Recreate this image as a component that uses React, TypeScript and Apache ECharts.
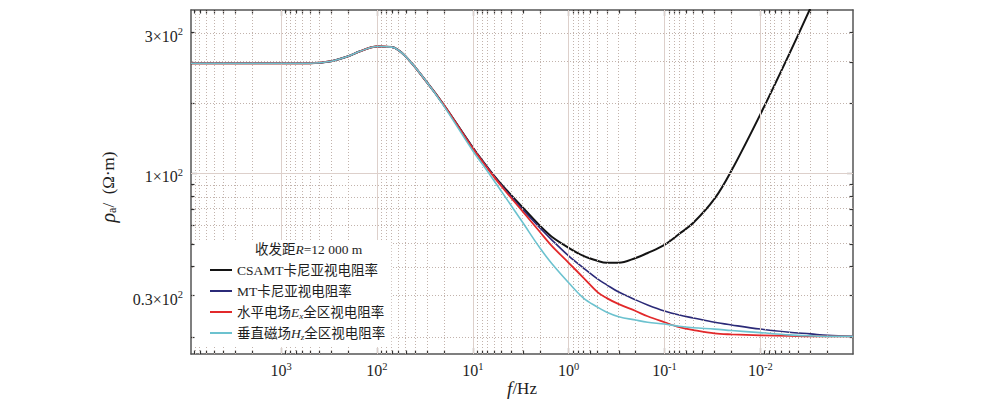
import React, { useEffect, useRef } from 'react';
import * as echarts from 'echarts';

// ---- data (frequency in Hz, apparent resistivity in Ω·m) ----
const FREQ_HZ = [8700, 5000, 2000, 1000, 500, 300, 200, 150, 100, 70, 50, 30, 20, 10, 7, 5, 3, 2, 1.5, 1, 0.7, 0.5, 0.4, 0.3, 0.2, 0.15, 0.1, 0.07, 0.05, 0.03, 0.02, 0.01, 0.005, 0.003, 0.002, 0.00108];

const RHO_CSAMT = [296, 296, 296, 296, 296, 302, 317, 333, 349, 347, 316, 245, 196, 129, 106, 89.6, 71.4, 59.8, 53.6, 48.1, 44.4, 42.3, 41.5, 41.5, 43.5, 45.7, 49.5, 55.2, 61.5, 78.0, 102.9, 179, 324, 510, null, null];
const RHO_MT = [296, 296, 296, 296, 296, 302, 317, 333, 349, 347, 316, 245, 196, 129, 106, 88.8, 69.9, 58.6, 52.0, 44.4, 39.4, 35.4, 33.4, 31.1, 28.8, 27.4, 25.8, 24.8, 24.1, 23.1, 22.5, 21.6, 20.95, 20.6, 20.3, 20.1];
const RHO_EX = [296, 296, 296, 296, 296, 302, 317, 333, 349, 347, 316, 245, 196, 128, 105, 87.9, 68.6, 56.3, 49.0, 41.5, 35.8, 31.1, 29.3, 27.6, 25.8, 24.5, 23.1, 22.0, 21.4, 20.7, 20.5, 20.3, 20.2, 20.1, 20.1, 20.1];
const RHO_HZ = [296, 296, 296, 296, 296, 302, 317, 333, 349, 347, 316, 245, 194, 125, 102, 83.6, 61.5, 48.1, 41.2, 34.1, 29.3, 26.8, 25.5, 24.4, 23.6, 23.1, 22.7, 22.2, 21.9, 21.6, 21.3, 20.85, 20.4, 20.2, 20.1, 20.1];

const SERIES_NAMES = ['CSAMT卡尼亚视电阻率', 'MT卡尼亚视电阻率', '水平电场Ex全区视电阻率', '垂直磁场Hz全区视电阻率'];
const LEGEND_RICH_TEXT = [
  '{n|CSAMT卡尼亚视电阻率}',
  '{n|MT卡尼亚视电阻率}',
  '{n|水平电场}{i|E}{sub|x}{n|全区视电阻率}',
  '{n|垂直磁场}{i|H}{sub|z}{n|全区视电阻率}',
];
const SERIES_COLORS = ['#141414', '#2b2a78', '#e2292b', '#6cc2cf'];
const SERIES_WIDTHS = [2, 1.6, 1.8, 1.6];

const X_MAJOR_EXP = [3, 2, 1, 0, -1, -2];
const Y_LABEL_VALUES = [400, 100, 30];
const Y_LABEL_TEXTS = ['{b|3×10}{s|2}', '{b|1×10}{s|2}', '{b|0.3×10}{s|2}'];
const Y_MINOR_VALUES = [20, 30, 40, 50, 60, 70, 80, 90, 200, 300, 400];
const Y_MAJOR_VALUES = [100];

const F_MIN = 0.00108;
const F_MAX = 8700;
const RHO_MIN = 16.9;
const RHO_MAX = 500;

const SERIF = '"Liberation Serif", "Times New Roman", "Noto Sans CJK SC", serif';
const TXT = '#1e1e1e';

const lg = (v: number) => Math.log10(v);

const richAxis = {
  b: { fontFamily: SERIF, fontSize: 16, color: TXT, lineHeight: 18, verticalAlign: 'bottom' },
  s: { fontFamily: SERIF, fontSize: 10.5, color: TXT, lineHeight: 9, verticalAlign: 'top' },
};
const richLegend = {
  n: { fontFamily: SERIF, fontSize: 13.5, color: TXT, lineHeight: 16, fontWeight: 'normal' },
  i: { fontFamily: SERIF, fontSize: 13.5, color: TXT, lineHeight: 16, fontStyle: 'italic', fontWeight: 'normal' },
  sub: { fontFamily: SERIF, fontSize: 9, color: TXT, lineHeight: 10, verticalAlign: 'bottom', fontStyle: 'italic', fontWeight: 'normal' },
};
const richName = {
  n: { fontFamily: SERIF, fontSize: 17, color: TXT, lineHeight: 20 },
  i: { fontFamily: SERIF, fontSize: 19, color: TXT, lineHeight: 20, fontStyle: 'italic' },
  r: { fontFamily: SERIF, fontSize: 20, color: TXT, lineHeight: 20, fontStyle: 'italic' },
  subn: { fontFamily: SERIF, fontSize: 12, color: TXT, lineHeight: 12, verticalAlign: 'bottom' },
};

function buildOption() {
  const rhoSets = [RHO_CSAMT, RHO_MT, RHO_EX, RHO_HZ];

  const xMin = lg(F_MIN);
  const xMax = lg(F_MAX);
  const yMin = lg(RHO_MIN);
  const yMax = lg(RHO_MAX);

  const xMajorTicks: number[] = X_MAJOR_EXP.slice();
  const xMinorTicks: number[] = [];
  for (let k = -4; k <= 4; k++) {
    for (let m = 2; m <= 9; m++) {
      const v = m * Math.pow(10, k);
      if (v > F_MIN && v < F_MAX) xMinorTicks.push(lg(v));
    }
  }
  const yMinorTicks = Y_MINOR_VALUES.map(lg);
  const yMajorTicks = Y_MAJOR_VALUES.map(lg);

  const majorGrid = { color: '#ddd0cb', type: 'solid', width: 1 };
  const minorGrid = { color: '#c2b3ac', type: [1, 2], width: 1 };

  const gridLines: any[] = [];
  xMinorTicks.forEach((v) => gridLines.push({ xAxis: v, lineStyle: minorGrid }));
  xMajorTicks.forEach((v) => gridLines.push({ xAxis: v, lineStyle: majorGrid }));
  yMinorTicks.forEach((v) => gridLines.push({ yAxis: v, lineStyle: minorGrid }));
  yMajorTicks.forEach((v) => gridLines.push({ yAxis: v, lineStyle: majorGrid }));

  const axisLineStyle = { color: '#555', width: 1.5 };
  const tickStyle = { color: '#333', width: 1.2 };

  const xCommon = {
    type: 'value',
    gridIndex: 0,
    min: xMin,
    max: xMax,
    inverse: true,
    splitLine: { show: false },
  };
  const yCommon = {
    type: 'value',
    gridIndex: 0,
    min: yMin,
    max: yMax,
    splitLine: { show: false },
  };

  const series: any[] = [
    {
      name: '__grid',
      type: 'line',
      data: [],
      z: 1,
      silent: true,
      markLine: {
        silent: true,
        symbol: ['none', 'none'],
        label: { show: false },
        emphasis: { disabled: true },
        data: gridLines,
      },
    },
  ];
  SERIES_NAMES.forEach((name, idx) => {
    const vals = rhoSets[idx];
    const data: number[][] = [];
    FREQ_HZ.forEach((f, j) => {
      const r = vals[j];
      if (r !== null && r !== undefined) data.push([lg(f), lg(r as number)]);
    });
    series.push({
      name,
      type: 'line',
      data,
      z: 3 + idx,
      smooth: 0.35,
      showSymbol: false,
      symbol: 'none',
      clip: true,
      lineStyle: { color: SERIES_COLORS[idx], width: SERIES_WIDTHS[idx] },
      itemStyle: { color: SERIES_COLORS[idx] },
    });
  });

  return {
    animation: false,
    backgroundColor: '#ffffff',
    grid: { left: 191, right: 147, top: 10, bottom: 45, containLabel: false, outerBoundsMode: 'none' },
    title: {
      text: '{n|收发距}{i|R}{n|=12 000 m}',
      left: 255,
      top: 241,
      padding: 0,
      textStyle: { rich: richLegend, fontWeight: 'normal', fontSize: 13.5, fontFamily: SERIF },
      z: 10,
    },
    legend: {
      data: SERIES_NAMES.map((name) => ({ name, icon: 'rect' })),
      orient: 'vertical',
      left: 195,
      top: 240,
      padding: [22, 6, 6, 15],
      itemWidth: 22,
      itemHeight: 2,
      itemGap: 5,
      backgroundColor: '#ffffff',
      selectedMode: false,
      formatter: (name: string) => LEGEND_RICH_TEXT[SERIES_NAMES.indexOf(name)],
      textStyle: { rich: richLegend, lineHeight: 16, fontSize: 13.5, fontFamily: SERIF },
      z: 8,
    },
    xAxis: [
      {
        ...xCommon,
        position: 'bottom',
        axisLine: { show: true, onZero: false, lineStyle: axisLineStyle },
        axisTick: { show: true, inside: true, length: 6, lineStyle: tickStyle, customValues: xMajorTicks },
        axisLabel: {
          show: true,
          margin: 5,
          padding: [2, 0, 0, 0],
          fontSize: 16,
          fontFamily: SERIF,
          color: TXT,
          customValues: X_MAJOR_EXP,
          formatter: (v: number) => `{b|10}{s|${Math.round(v)}}`,
          rich: richAxis,
        },
        name: '{i|f}{n|/Hz}',
        nameLocation: 'middle',
        nameGap: 24,
        nameMoveOverlap: false,
        nameTextStyle: { rich: richName, fontSize: 17, fontFamily: SERIF, color: TXT },
      },
      {
        ...xCommon,
        position: 'top',
        axisLine: { show: true, onZero: false, lineStyle: axisLineStyle },
        axisTick: { show: true, inside: true, length: 6, lineStyle: tickStyle, customValues: xMajorTicks },
        axisLabel: { show: false },
      },
      {
        ...xCommon,
        position: 'bottom',
        axisLine: { show: false, onZero: false },
        axisTick: { show: true, inside: true, length: 3.5, lineStyle: tickStyle, customValues: xMinorTicks },
        axisLabel: { show: false },
      },
      {
        ...xCommon,
        position: 'top',
        axisLine: { show: false, onZero: false },
        axisTick: { show: true, inside: true, length: 3.5, lineStyle: tickStyle, customValues: xMinorTicks },
        axisLabel: { show: false },
      },
    ],
    yAxis: [
      {
        ...yCommon,
        position: 'left',
        axisLine: { show: true, onZero: false, lineStyle: axisLineStyle },
        axisTick: { show: true, inside: true, length: 6, lineStyle: tickStyle, customValues: yMajorTicks },
        axisLabel: {
          show: true,
          margin: 8,
          padding: [5, 0, 0, 0],
          fontSize: 16,
          fontFamily: SERIF,
          color: TXT,
          customValues: Y_LABEL_VALUES.map(lg),
          formatter: (v: number) => {
            let best = 0;
            let bd = Infinity;
            Y_LABEL_VALUES.forEach((lv, i) => {
              const d = Math.abs(lg(lv) - v);
              if (d < bd) { bd = d; best = i; }
            });
            return Y_LABEL_TEXTS[best];
          },
          rich: richAxis,
        },
        name: '{r|ρ}{subn|a}{n|/  (Ω·m)}',
        nameLocation: 'middle',
        nameGap: 73,
        nameMoveOverlap: false,
        nameRotate: 90,
        nameTextStyle: { rich: richName, fontSize: 17, fontFamily: SERIF, color: TXT, padding: [0, 10, 0, 0] },
      },
      {
        ...yCommon,
        position: 'right',
        axisLine: { show: true, onZero: false, lineStyle: axisLineStyle },
        axisTick: { show: true, inside: true, length: 6, lineStyle: tickStyle, customValues: yMajorTicks },
        axisLabel: { show: false },
      },
      {
        ...yCommon,
        position: 'left',
        axisLine: { show: false, onZero: false },
        axisTick: { show: true, inside: true, length: 3.5, lineStyle: tickStyle, customValues: yMinorTicks },
        axisLabel: { show: false },
      },
      {
        ...yCommon,
        position: 'right',
        axisLine: { show: false, onZero: false },
        axisTick: { show: true, inside: true, length: 3.5, lineStyle: tickStyle, customValues: yMinorTicks },
        axisLabel: { show: false },
      },
    ],
    series,
  };
}

export default function App() {
  const ref = useRef<HTMLDivElement>(null);
  useEffect(() => {
    if (!ref.current) return;
    const chart = echarts.init(ref.current, undefined, { renderer: 'svg' });
    chart.setOption(buildOption() as any);
    return () => chart.dispose();
  }, []);
  return (
    <div
      ref={ref}
      style={{ position: 'absolute', left: 0, top: 0, width: 1000, height: 399, background: '#fff' }}
    />
  );
}
